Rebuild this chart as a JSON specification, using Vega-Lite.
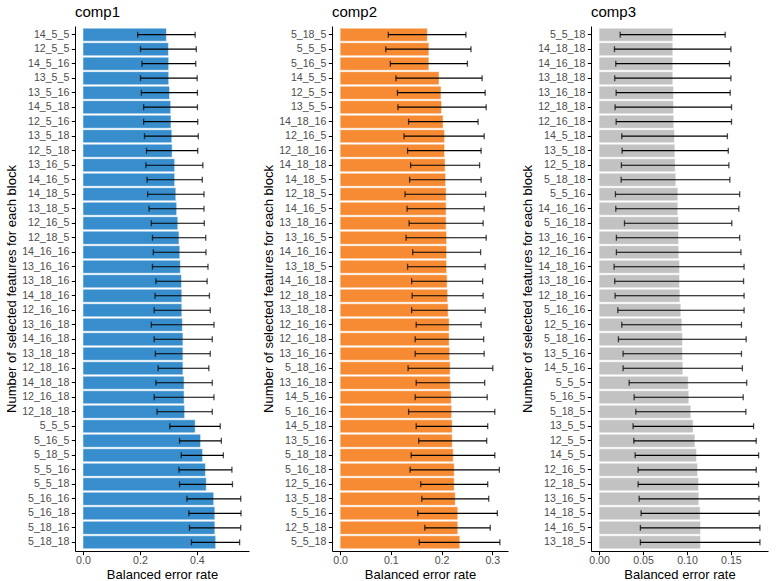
{
  "$schema": "https://vega.github.io/schema/vega-lite/v6.json",
  "padding": {"left": 5, "top": 5, "right": 5, "bottom": 0},
  "background": "white",
  "config": {
    "font": "Liberation Sans",
    "view": {"stroke": null},
    "axis": {"grid": false, "domainColor": "black", "tickColor": "black", "labelColor": "#4d4d4d", "labelFontSize": 10.6, "titleFontSize": 13, "titleFontWeight": "normal", "titleColor": "black", "tickSize": 3.7, "labelPadding": 2.5, "titlePadding": 3},
    "axisX": {"labelPadding": 1, "titlePadding": 2},
    "title": {"fontSize": 15, "fontWeight": "normal", "color": "black", "anchor": "start", "frame": "group", "offset": 6}
  },
  "datasets": {
    "d": [
      {"comp":"comp1","block":"14_5_5","ber":0.293,"lo":0.192,"hi":0.394},
      {"comp":"comp1","block":"12_5_5","ber":0.300,"lo":0.202,"hi":0.398},
      {"comp":"comp1","block":"14_5_16","ber":0.301,"lo":0.207,"hi":0.396},
      {"comp":"comp1","block":"13_5_5","ber":0.301,"lo":0.202,"hi":0.401},
      {"comp":"comp1","block":"13_5_16","ber":0.304,"lo":0.205,"hi":0.402},
      {"comp":"comp1","block":"14_5_18","ber":0.308,"lo":0.213,"hi":0.402},
      {"comp":"comp1","block":"12_5_16","ber":0.309,"lo":0.213,"hi":0.403},
      {"comp":"comp1","block":"13_5_18","ber":0.312,"lo":0.216,"hi":0.405},
      {"comp":"comp1","block":"12_5_18","ber":0.313,"lo":0.223,"hi":0.403},
      {"comp":"comp1","block":"13_16_5","ber":0.322,"lo":0.221,"hi":0.421},
      {"comp":"comp1","block":"14_16_5","ber":0.322,"lo":0.225,"hi":0.419},
      {"comp":"comp1","block":"14_18_5","ber":0.326,"lo":0.227,"hi":0.425},
      {"comp":"comp1","block":"13_18_5","ber":0.329,"lo":0.232,"hi":0.425},
      {"comp":"comp1","block":"12_16_5","ber":0.333,"lo":0.240,"hi":0.426},
      {"comp":"comp1","block":"12_18_5","ber":0.337,"lo":0.244,"hi":0.431},
      {"comp":"comp1","block":"14_16_16","ber":0.340,"lo":0.247,"hi":0.432},
      {"comp":"comp1","block":"13_16_16","ber":0.342,"lo":0.244,"hi":0.439},
      {"comp":"comp1","block":"13_18_16","ber":0.346,"lo":0.256,"hi":0.436},
      {"comp":"comp1","block":"14_18_16","ber":0.347,"lo":0.253,"hi":0.444},
      {"comp":"comp1","block":"12_16_16","ber":0.347,"lo":0.250,"hi":0.447},
      {"comp":"comp1","block":"13_16_18","ber":0.349,"lo":0.240,"hi":0.460},
      {"comp":"comp1","block":"14_16_18","ber":0.351,"lo":0.250,"hi":0.454},
      {"comp":"comp1","block":"13_18_18","ber":0.351,"lo":0.254,"hi":0.447},
      {"comp":"comp1","block":"12_18_16","ber":0.351,"lo":0.264,"hi":0.442},
      {"comp":"comp1","block":"14_18_18","ber":0.355,"lo":0.256,"hi":0.454},
      {"comp":"comp1","block":"12_16_18","ber":0.355,"lo":0.250,"hi":0.460},
      {"comp":"comp1","block":"12_18_18","ber":0.357,"lo":0.260,"hi":0.454},
      {"comp":"comp1","block":"5_5_5","ber":0.394,"lo":0.305,"hi":0.482},
      {"comp":"comp1","block":"5_16_5","ber":0.413,"lo":0.339,"hi":0.486},
      {"comp":"comp1","block":"5_18_5","ber":0.420,"lo":0.345,"hi":0.493},
      {"comp":"comp1","block":"5_5_16","ber":0.430,"lo":0.337,"hi":0.523},
      {"comp":"comp1","block":"5_5_18","ber":0.433,"lo":0.339,"hi":0.525},
      {"comp":"comp1","block":"5_16_16","ber":0.459,"lo":0.365,"hi":0.554},
      {"comp":"comp1","block":"5_16_18","ber":0.463,"lo":0.372,"hi":0.555},
      {"comp":"comp1","block":"5_18_16","ber":0.463,"lo":0.374,"hi":0.554},
      {"comp":"comp1","block":"5_18_18","ber":0.466,"lo":0.381,"hi":0.550},

      {"comp":"comp2","block":"5_18_5","ber":0.172,"lo":0.095,"hi":0.248},
      {"comp":"comp2","block":"5_5_5","ber":0.175,"lo":0.090,"hi":0.258},
      {"comp":"comp2","block":"5_16_5","ber":0.175,"lo":0.099,"hi":0.251},
      {"comp":"comp2","block":"14_5_5","ber":0.195,"lo":0.110,"hi":0.280},
      {"comp":"comp2","block":"12_5_5","ber":0.199,"lo":0.113,"hi":0.286},
      {"comp":"comp2","block":"13_5_5","ber":0.200,"lo":0.114,"hi":0.288},
      {"comp":"comp2","block":"14_18_16","ber":0.203,"lo":0.135,"hi":0.272},
      {"comp":"comp2","block":"12_16_5","ber":0.206,"lo":0.126,"hi":0.284},
      {"comp":"comp2","block":"12_18_16","ber":0.206,"lo":0.133,"hi":0.278},
      {"comp":"comp2","block":"14_18_18","ber":0.207,"lo":0.139,"hi":0.275},
      {"comp":"comp2","block":"14_18_5","ber":0.208,"lo":0.137,"hi":0.278},
      {"comp":"comp2","block":"12_18_5","ber":0.209,"lo":0.128,"hi":0.287},
      {"comp":"comp2","block":"14_16_5","ber":0.209,"lo":0.132,"hi":0.284},
      {"comp":"comp2","block":"13_18_16","ber":0.209,"lo":0.136,"hi":0.282},
      {"comp":"comp2","block":"13_16_5","ber":0.210,"lo":0.130,"hi":0.288},
      {"comp":"comp2","block":"14_16_16","ber":0.210,"lo":0.143,"hi":0.277},
      {"comp":"comp2","block":"13_18_5","ber":0.210,"lo":0.133,"hi":0.286},
      {"comp":"comp2","block":"14_16_18","ber":0.211,"lo":0.141,"hi":0.281},
      {"comp":"comp2","block":"12_18_18","ber":0.212,"lo":0.142,"hi":0.282},
      {"comp":"comp2","block":"13_18_18","ber":0.213,"lo":0.141,"hi":0.286},
      {"comp":"comp2","block":"12_16_16","ber":0.215,"lo":0.150,"hi":0.278},
      {"comp":"comp2","block":"12_16_18","ber":0.215,"lo":0.148,"hi":0.283},
      {"comp":"comp2","block":"13_16_16","ber":0.216,"lo":0.148,"hi":0.284},
      {"comp":"comp2","block":"5_18_16","ber":0.217,"lo":0.134,"hi":0.301},
      {"comp":"comp2","block":"13_16_18","ber":0.217,"lo":0.150,"hi":0.285},
      {"comp":"comp2","block":"14_5_16","ber":0.219,"lo":0.148,"hi":0.290},
      {"comp":"comp2","block":"5_16_16","ber":0.220,"lo":0.135,"hi":0.305},
      {"comp":"comp2","block":"14_5_18","ber":0.221,"lo":0.150,"hi":0.291},
      {"comp":"comp2","block":"13_5_16","ber":0.221,"lo":0.155,"hi":0.289},
      {"comp":"comp2","block":"5_18_18","ber":0.223,"lo":0.140,"hi":0.305},
      {"comp":"comp2","block":"5_16_18","ber":0.225,"lo":0.138,"hi":0.314},
      {"comp":"comp2","block":"12_5_16","ber":0.225,"lo":0.159,"hi":0.291},
      {"comp":"comp2","block":"13_5_18","ber":0.227,"lo":0.161,"hi":0.293},
      {"comp":"comp2","block":"5_5_16","ber":0.232,"lo":0.153,"hi":0.310},
      {"comp":"comp2","block":"12_5_18","ber":0.232,"lo":0.167,"hi":0.296},
      {"comp":"comp2","block":"5_5_18","ber":0.236,"lo":0.156,"hi":0.315},

      {"comp":"comp3","block":"5_5_18","ber":0.0839,"lo":0.0240,"hi":0.1435},
      {"comp":"comp3","block":"14_18_18","ber":0.0839,"lo":0.0175,"hi":0.1500},
      {"comp":"comp3","block":"14_16_18","ber":0.0839,"lo":0.0190,"hi":0.1484},
      {"comp":"comp3","block":"13_18_18","ber":0.0839,"lo":0.0178,"hi":0.1500},
      {"comp":"comp3","block":"13_16_18","ber":0.0847,"lo":0.0194,"hi":0.1492},
      {"comp":"comp3","block":"12_18_18","ber":0.0847,"lo":0.0182,"hi":0.1507},
      {"comp":"comp3","block":"12_16_18","ber":0.0850,"lo":0.0194,"hi":0.1507},
      {"comp":"comp3","block":"14_5_18","ber":0.0858,"lo":0.0258,"hi":0.1460},
      {"comp":"comp3","block":"13_5_18","ber":0.0862,"lo":0.0262,"hi":0.1470},
      {"comp":"comp3","block":"12_5_18","ber":0.0866,"lo":0.0254,"hi":0.1477},
      {"comp":"comp3","block":"5_18_18","ber":0.0873,"lo":0.0251,"hi":0.1488},
      {"comp":"comp3","block":"5_5_16","ber":0.0896,"lo":0.0186,"hi":0.1600},
      {"comp":"comp3","block":"14_16_16","ber":0.0896,"lo":0.0190,"hi":0.1590},
      {"comp":"comp3","block":"5_16_18","ber":0.0904,"lo":0.0289,"hi":0.1510},
      {"comp":"comp3","block":"13_16_16","ber":0.0904,"lo":0.0197,"hi":0.1600},
      {"comp":"comp3","block":"12_16_16","ber":0.0907,"lo":0.0197,"hi":0.1614},
      {"comp":"comp3","block":"14_18_16","ber":0.0915,"lo":0.0171,"hi":0.1650},
      {"comp":"comp3","block":"13_18_16","ber":0.0915,"lo":0.0178,"hi":0.1644},
      {"comp":"comp3","block":"12_18_16","ber":0.0919,"lo":0.0182,"hi":0.1650},
      {"comp":"comp3","block":"5_16_16","ber":0.0930,"lo":0.0213,"hi":0.1650},
      {"comp":"comp3","block":"12_5_16","ber":0.0942,"lo":0.0258,"hi":0.1620},
      {"comp":"comp3","block":"5_18_16","ber":0.0949,"lo":0.0220,"hi":0.1674},
      {"comp":"comp3","block":"13_5_16","ber":0.0949,"lo":0.0273,"hi":0.1620},
      {"comp":"comp3","block":"14_5_16","ber":0.0953,"lo":0.0273,"hi":0.1630},
      {"comp":"comp3","block":"5_5_5","ber":0.1014,"lo":0.0342,"hi":0.1680},
      {"comp":"comp3","block":"5_16_5","ber":0.1021,"lo":0.0399,"hi":0.1640},
      {"comp":"comp3","block":"5_18_5","ber":0.1044,"lo":0.0418,"hi":0.1670},
      {"comp":"comp3","block":"13_5_5","ber":0.1070,"lo":0.0387,"hi":0.1758},
      {"comp":"comp3","block":"12_5_5","ber":0.1090,"lo":0.0395,"hi":0.1788},
      {"comp":"comp3","block":"14_5_5","ber":0.1109,"lo":0.0410,"hi":0.1815},
      {"comp":"comp3","block":"12_16_5","ber":0.1120,"lo":0.0444,"hi":0.1788},
      {"comp":"comp3","block":"12_18_5","ber":0.1131,"lo":0.0444,"hi":0.1815},
      {"comp":"comp3","block":"13_16_5","ber":0.1135,"lo":0.0456,"hi":0.1820},
      {"comp":"comp3","block":"14_18_5","ber":0.1150,"lo":0.0478,"hi":0.1822},
      {"comp":"comp3","block":"14_16_5","ber":0.1154,"lo":0.0470,"hi":0.1830},
      {"comp":"comp3","block":"13_18_5","ber":0.1154,"lo":0.0470,"hi":0.1830}
    ]
  },
  "data": {"name": "d"},
  "spacing": 13,
  "resolve": {"scale": {"x": "independent", "y": "independent"}},
  "hconcat": [
    {
      "width": 174, "height": 525,
      "title": "comp1",
      "transform": [{"filter": "datum.comp === 'comp1'"}],
      "encoding": {
        "y": {"field": "block", "type": "nominal",
          "sort": ["14_5_5","12_5_5","14_5_16","13_5_5","13_5_16","14_5_18","12_5_16","13_5_18","12_5_18","13_16_5","14_16_5","14_18_5","13_18_5","12_16_5","12_18_5","14_16_16","13_16_16","13_18_16","14_18_16","12_16_16","13_16_18","14_16_18","13_18_18","12_18_16","14_18_18","12_16_18","12_18_18","5_5_5","5_16_5","5_18_5","5_5_16","5_5_18","5_16_16","5_16_18","5_18_16","5_18_18"],
          "scale": {"paddingInner": 0.1, "paddingOuter": 0.15},
          "axis": {"title": "Number of selected features for each block"}}
      },
      "layer": [
        {"mark": {"type": "bar", "fill": "#388ECC", "stroke": "white", "strokeWidth": 0.5},
         "encoding": {"x": {"field": "ber", "type": "quantitative", "scale": {"domain": [-0.028, 0.583], "nice": false, "zero": false},
           "axis": {"values": [0, 0.2, 0.4], "format": ".1f", "title": "Balanced error rate"}},
           "x2": {"datum": 0}}},
        {"mark": {"type": "rule", "color": "black", "strokeWidth": 1.2},
         "encoding": {"x": {"field": "lo", "type": "quantitative"}, "x2": {"field": "hi"}}},
        {"mark": {"type": "tick", "color": "black", "size": 6, "thickness": 1.3, "orient": "vertical"},
         "encoding": {"x": {"field": "lo", "type": "quantitative"}}},
        {"mark": {"type": "tick", "color": "black", "size": 6, "thickness": 1.3, "orient": "vertical"},
         "encoding": {"x": {"field": "hi", "type": "quantitative"}}}
      ]
    },
    {
      "width": 176, "height": 525,
      "title": "comp2",
      "transform": [{"filter": "datum.comp === 'comp2'"}],
      "encoding": {
        "y": {"field": "block", "type": "nominal",
          "sort": ["5_18_5","5_5_5","5_16_5","14_5_5","12_5_5","13_5_5","14_18_16","12_16_5","12_18_16","14_18_18","14_18_5","12_18_5","14_16_5","13_18_16","13_16_5","14_16_16","13_18_5","14_16_18","12_18_18","13_18_18","12_16_16","12_16_18","13_16_16","5_18_16","13_16_18","14_5_16","5_16_16","14_5_18","13_5_16","5_18_18","5_16_18","12_5_16","13_5_18","5_5_16","12_5_18","5_5_18"],
          "scale": {"paddingInner": 0.1, "paddingOuter": 0.15},
          "axis": {"title": "Number of selected features for each block"}}
      },
      "layer": [
        {"mark": {"type": "bar", "fill": "#F68B33", "stroke": "white", "strokeWidth": 0.5},
         "encoding": {"x": {"field": "ber", "type": "quantitative", "scale": {"domain": [-0.016, 0.331], "nice": false, "zero": false},
           "axis": {"values": [0, 0.1, 0.2, 0.3], "format": ".1f", "title": "Balanced error rate"}},
           "x2": {"datum": 0}}},
        {"mark": {"type": "rule", "color": "black", "strokeWidth": 1.2},
         "encoding": {"x": {"field": "lo", "type": "quantitative"}, "x2": {"field": "hi"}}},
        {"mark": {"type": "tick", "color": "black", "size": 6, "thickness": 1.3, "orient": "vertical"},
         "encoding": {"x": {"field": "lo", "type": "quantitative"}}},
        {"mark": {"type": "tick", "color": "black", "size": 6, "thickness": 1.3, "orient": "vertical"},
         "encoding": {"x": {"field": "hi", "type": "quantitative"}}}
      ]
    },
    {
      "width": 177, "height": 525,
      "title": "comp3",
      "transform": [{"filter": "datum.comp === 'comp3'"}],
      "encoding": {
        "y": {"field": "block", "type": "nominal",
          "sort": ["5_5_18","14_18_18","14_16_18","13_18_18","13_16_18","12_18_18","12_16_18","14_5_18","13_5_18","12_5_18","5_18_18","5_5_16","14_16_16","5_16_18","13_16_16","12_16_16","14_18_16","13_18_16","12_18_16","5_16_16","12_5_16","5_18_16","13_5_16","14_5_16","5_5_5","5_16_5","5_18_5","13_5_5","12_5_5","14_5_5","12_16_5","12_18_5","13_16_5","14_18_5","14_16_5","13_18_5"],
          "scale": {"paddingInner": 0.1, "paddingOuter": 0.15},
          "axis": {"title": "Number of selected features for each block"}}
      },
      "layer": [
        {"mark": {"type": "bar", "fill": "#C2C2C2", "stroke": "white", "strokeWidth": 0.5},
         "encoding": {"x": {"field": "ber", "type": "quantitative", "scale": {"domain": [-0.0092, 0.1922], "nice": false, "zero": false},
           "axis": {"values": [0, 0.05, 0.1, 0.15], "format": ".2f", "title": "Balanced error rate"}},
           "x2": {"datum": 0}}},
        {"mark": {"type": "rule", "color": "black", "strokeWidth": 1.2},
         "encoding": {"x": {"field": "lo", "type": "quantitative"}, "x2": {"field": "hi"}}},
        {"mark": {"type": "tick", "color": "black", "size": 6, "thickness": 1.3, "orient": "vertical"},
         "encoding": {"x": {"field": "lo", "type": "quantitative"}}},
        {"mark": {"type": "tick", "color": "black", "size": 6, "thickness": 1.3, "orient": "vertical"},
         "encoding": {"x": {"field": "hi", "type": "quantitative"}}}
      ]
    }
  ]
}
